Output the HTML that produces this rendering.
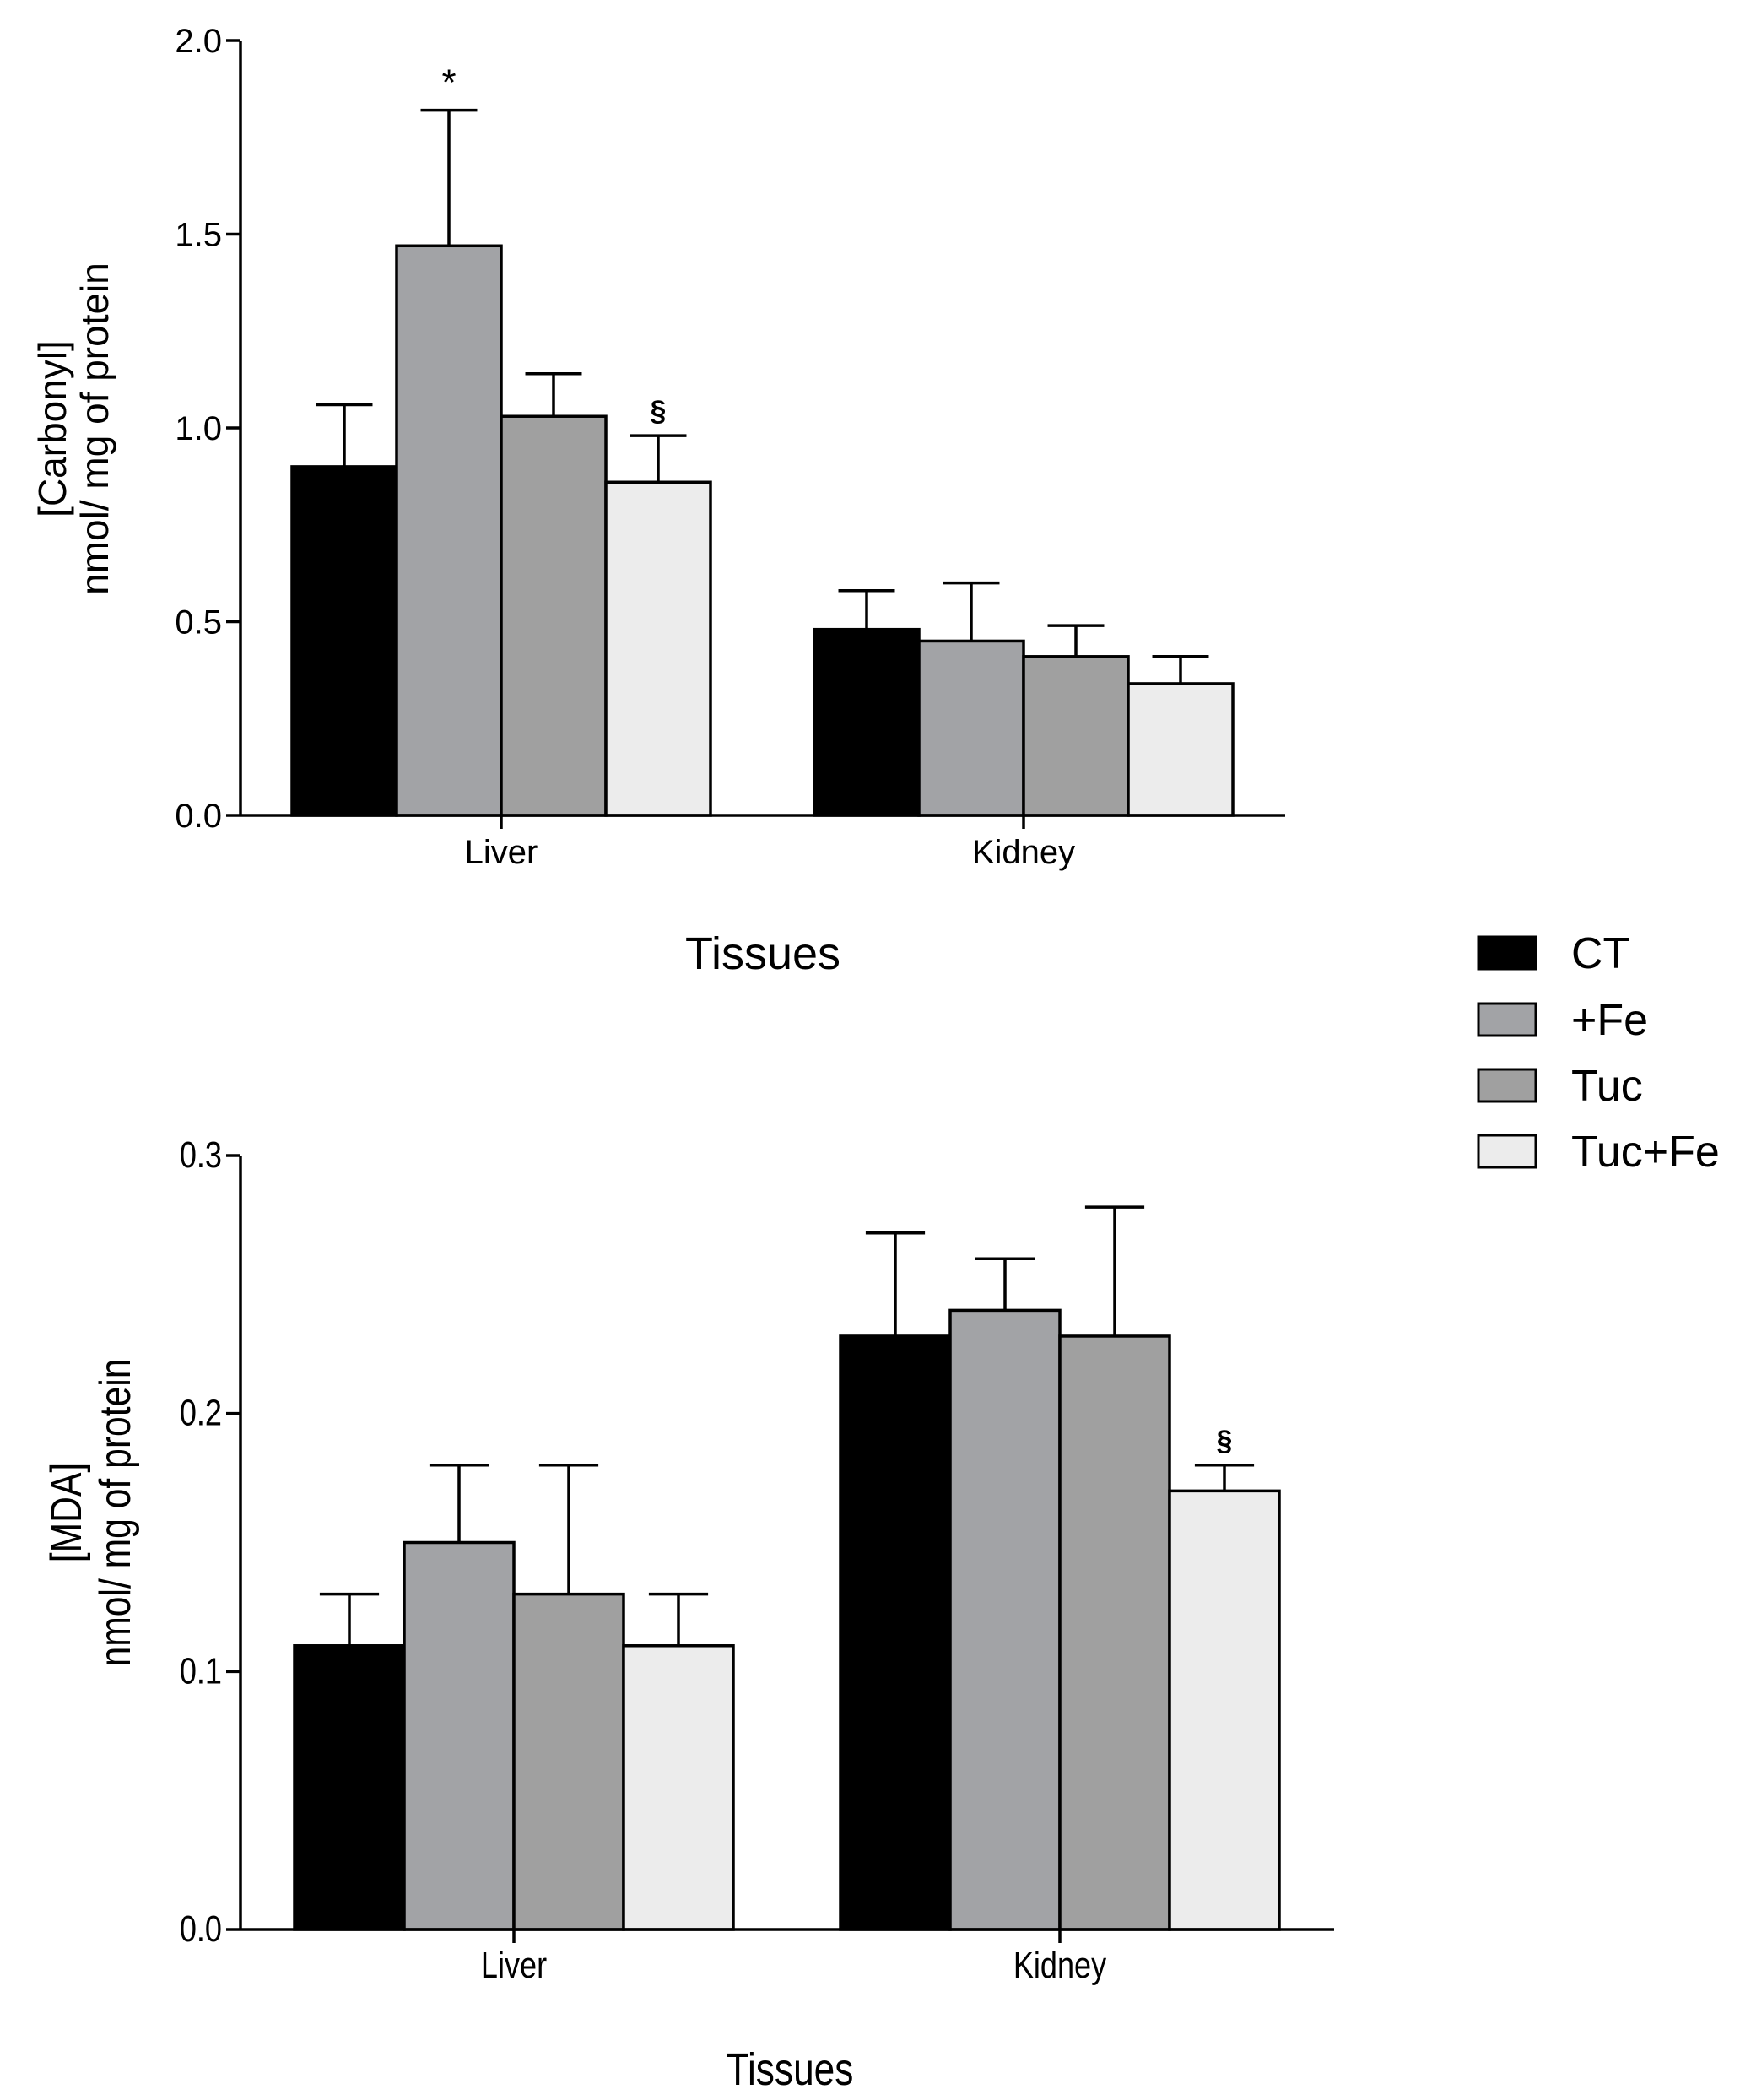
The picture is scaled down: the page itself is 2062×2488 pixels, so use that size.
<!DOCTYPE html>
<html><head><meta charset="utf-8"><style>
html,body{margin:0;padding:0;background:#fff;}
svg{display:block;font-family:"Liberation Sans",Arial,sans-serif;}
</style></head><body>
<svg id="chart" width="2062" height="2488" viewBox="0 0 2062 2488" xmlns="http://www.w3.org/2000/svg">
<g id="legend">
  <g><rect x="1752" y="1110" width="68" height="38" fill="#000" stroke="#000" stroke-width="3"/><text x="1862" y="1147" font-size="52">CT</text></g>
  <g><rect x="1752" y="1189" width="68" height="38" fill="#a2a3a6" stroke="#000" stroke-width="3"/><text x="1862" y="1226" font-size="52">+Fe</text></g>
  <g><rect x="1752" y="1267" width="68" height="38" fill="#a0a0a0" stroke="#000" stroke-width="3"/><text x="1862" y="1304" font-size="52">Tuc</text></g>
  <g><rect x="1752" y="1345" width="68" height="38" fill="#ececec" stroke="#000" stroke-width="3"/><text x="1862" y="1382" font-size="52">Tuc+Fe</text></g>
</g>
</svg>
<script>
const categories = ["Liver", "Kidney"];
const seriesNames = ["CT", "+Fe", "Tuc", "Tuc+Fe"];
const fills = ["#000000", "#a2a3a6", "#a0a0a0", "#ececec"];
// Top chart: carbonyl
const carbonylMeans = [[0.90, 0.48], [1.47, 0.45], [1.03, 0.41], [0.86, 0.34]];
const carbonylErrTop = [[1.06, 0.58], [1.82, 0.60], [1.14, 0.49], [0.98, 0.41]];
const carbonylTicks = [0.0, 0.5, 1.0, 1.5, 2.0];
const carbonylTickLabels = ["0.0", "0.5", "1.0", "1.5", "2.0"];
const carbonylMarks = [{s: 1, c: 0, t: "*"}, {s: 3, c: 0, t: "§"}];
// Bottom chart: MDA
const mdaMeans = [[0.11, 0.23], [0.15, 0.24], [0.13, 0.23], [0.11, 0.17]];
const mdaErrTop = [[0.13, 0.27], [0.18, 0.26], [0.18, 0.28], [0.13, 0.18]];
const mdaTicks = [0.0, 0.1, 0.2, 0.3];
const mdaTickLabels = ["0.0", "0.1", "0.2", "0.3"];
const mdaMarks = [{s: 3, c: 1, t: "§"}];

const NS = "http://www.w3.org/2000/svg";
const svg = document.getElementById("chart");
function mk(tag, attrs, parent) {
  const e = document.createElementNS(NS, tag);
  for (const k in attrs) e.setAttribute(k, attrs[k]);
  (parent || svg).appendChild(e);
  return e;
}

function drawChart(cfg) {
  const g = mk("g", {});
  
  
  const yScale = v => cfg.y0 + (cfg.y1 - cfg.y0) * (v - cfg.vmin) / (cfg.vmax - cfg.vmin);
  const fsx = cfg.narrow ? "scale(0.82,1)" : "";
  categories.forEach((cat, c) => {
    seriesNames.forEach((sn, s) => {
      const x = cfg.groupStarts[c] + s * cfg.barW;
      const v = cfg.means[s][c];
      const yt = yScale(v);
      const r = mk("rect", {x: x, y: yt, width: cfg.barW, height: cfg.y0 - yt, fill: fills[s], stroke: "#000", "stroke-width": 3.5}, g);
      
      
      const cx = x + cfg.barW / 2;
      const ye = yScale(cfg.err[s][c]);
      const eb = mk("path", {d: `M${cx} ${yt}V${ye}M${cx - cfg.barW * 0.27} ${ye}H${cx + cfg.barW * 0.27}`, stroke: "#000", "stroke-width": 3.5, fill: "none"}, g);
      
      
    });
  });
  cfg.marks.forEach(m => {
    const cx = cfg.groupStarts[m.c] + (m.s + 0.5) * cfg.barW;
    const t = mk("text", {x: cx, y: yScale(cfg.err[m.s][m.c]) - 18, "font-size": m.t === "*" ? 44 : 34, "text-anchor": "middle", "font-weight": m.t === "§" ? "bold" : "normal"}, g);
    t.textContent = m.t;
    
    
  });
  const ya = mk("line", {x1: cfg.ax, x2: cfg.ax, y1: yScale(cfg.vmax), y2: cfg.y0, stroke: "#000", "stroke-width": 3.5}, g);
  
  
  const xa = mk("line", {x1: cfg.ax, x2: cfg.axEnd, y1: cfg.y0, y2: cfg.y0, stroke: "#000", "stroke-width": 3.5}, g);
  
  
  cfg.ticks.forEach((v, i) => {
    const y = yScale(v);
    mk("line", {x1: cfg.ax - 17, x2: cfg.ax, y1: y, y2: y, stroke: "#000", "stroke-width": 3.5}, g);
    const t = mk("text", {x: 0, y: 0, "font-size": cfg.tickFs, "text-anchor": "end", transform: `translate(${cfg.ax - 22},${y + 14}) ${fsx}`}, g);
    t.textContent = cfg.tickLabels[i];
    
    
  });
  categories.forEach((cat, c) => {
    const cx = cfg.groupStarts[c] + 2 * cfg.barW;
    mk("line", {x1: cx, x2: cx, y1: cfg.y0, y2: cfg.y0 + 16, stroke: "#000", "stroke-width": 3.5}, g);
    const t = mk("text", {x: 0, y: 0, "font-size": cfg.tickFs, "text-anchor": "middle", transform: `translate(${cx},${cfg.y0 + 57}) ${fsx}`}, g);
    t.textContent = cat;
    
    
  });
  const xt = mk("text", {x: 0, y: 0, "font-size": 54, "text-anchor": "middle", transform: `translate(${cfg.xTitleX},${cfg.xTitleY}) ${fsx}`}, g);
  xt.textContent = "Tissues";
  
  
  const yt = mk("text", {"font-size": cfg.titleFs, "text-anchor": "middle", transform: `translate(${cfg.yTitleX},${cfg.yTitleY}) rotate(-90) ${fsx}`}, g);
  
  
  const t1 = mk("tspan", {x: 0, y: 0}, yt); t1.textContent = cfg.yTitle;
  const t2 = mk("tspan", {x: 0, y: cfg.lineGap}, yt); t2.textContent = "nmol/ mg of protein";
}

drawChart({name: "carbonyl-chart", means: carbonylMeans, err: carbonylErrTop, ticks: carbonylTicks, tickLabels: carbonylTickLabels, marks: carbonylMarks,
  vmin: 0, vmax: 2, y0: 966, y1: 48, ax: 285, axEnd: 1523, barW: 124, groupStarts: [346, 965],
  xTitleX: 904, xTitleY: 1148, yTitleX: 78, yTitleY: 508, yTitle: "[Carbonyl]", narrow: false,
  tickFs: 40, titleFs: 46, lineGap: 50});
drawChart({name: "mda-chart", means: mdaMeans, err: mdaErrTop, ticks: mdaTicks, tickLabels: mdaTickLabels, marks: mdaMarks,
  vmin: 0, vmax: 0.3, y0: 2286, y1: 1369, ax: 285, axEnd: 1581, barW: 130, groupStarts: [349, 996],
  xTitleX: 936, xTitleY: 2470, yTitleX: 96, yTitleY: 1792, yTitle: "[MDA]", narrow: true,
  tickFs: 44, titleFs: 52, lineGap: 58});
</script>
</body></html>
